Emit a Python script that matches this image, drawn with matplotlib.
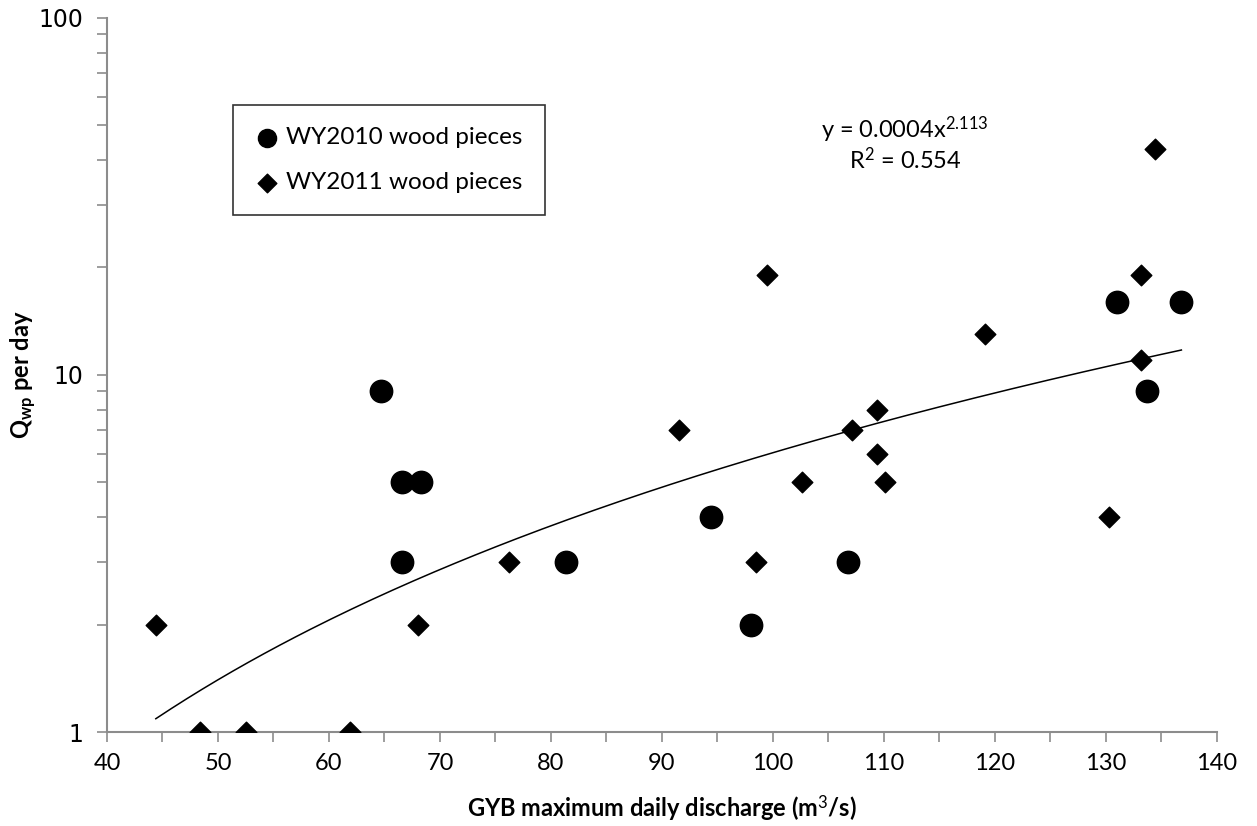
import numpy as np
import matplotlib
matplotlib.use("Agg")
import matplotlib.pyplot as plt
from matplotlib.ticker import MultipleLocator, LogLocator, NullFormatter, FixedFormatter, FixedLocator

plt.rcParams["mathtext.fontset"] = "custom"
plt.rcParams["mathtext.rm"] = "Lato"
plt.rcParams["mathtext.it"] = "Lato:italic"
plt.rcParams["mathtext.bf"] = "Lato:bold"

# WY2010 wood pieces (circles)
q2010 = [64.7, 66.6, 68.3, 66.6, 81.4, 94.4, 98.0, 106.8, 131.0, 133.7, 136.8]
n2010 = [9, 5, 5, 3, 3, 4, 2, 3, 16, 9, 16]

# WY2011 wood pieces (diamonds)
q2011 = [44.4, 48.4, 52.5, 61.9, 68.0, 76.2, 91.5, 99.5, 98.5, 102.6, 107.1,
         109.4, 109.4, 110.1, 119.1, 130.3, 133.2, 133.2, 134.4]
n2011 = [2, 1, 1, 1, 2, 3, 7, 19, 3, 5, 7, 8, 6, 5, 13, 4, 19, 11, 43]

# power trendline as printed on the chart
coef_a = 0.00036
coef_b = 2.113

grey = "#8c8c8c"
fig = plt.figure(figsize=(12.57, 8.26), dpi=100)
ax = fig.add_axes([0.0851, 0.1138, 0.883, 0.8645])

ax.scatter(q2010, n2010, marker="o", s=260, color="black", zorder=3,
           label="WY2010 wood pieces")
ax.scatter(q2011, n2011, marker="D", s=110, color="black", zorder=3,
           label="WY2011 wood pieces")

xs = np.linspace(min(q2011), max(q2010), 200)
ax.plot(xs, coef_a * xs ** coef_b, color="black", lw=1.1, zorder=2)

ax.set_yscale("log")
ax.set_xlim(40, 140)
ax.set_ylim(1, 100)

ax.xaxis.set_major_locator(MultipleLocator(10))
ax.xaxis.set_minor_locator(MultipleLocator(5))
ax.yaxis.set_major_locator(FixedLocator([1, 10, 100]))
ax.yaxis.set_major_formatter(FixedFormatter(["1", "10", "100"]))
ax.yaxis.set_minor_locator(LogLocator(base=10, subs=np.arange(2, 10)))
ax.yaxis.set_minor_formatter(NullFormatter())

for s in ["top", "right"]:
    ax.spines[s].set_visible(False)
for s in ["left", "bottom"]:
    ax.spines[s].set_color(grey)
    ax.spines[s].set_linewidth(1.5)

ax.tick_params(axis="x", which="both", direction="out", length=7, width=1.2,
               color=grey, labelsize=17, pad=8)
ax.tick_params(axis="y", which="both", direction="out", length=7, width=1.2,
               color=grey, labelsize=17, pad=10)
for t in ax.get_xticklabels():
    t.set_family("Lato")
for t in ax.get_yticklabels():
    t.set_family("DejaVu Sans")

ax.set_xlabel("GYB maximum daily discharge (m$^3$/s)", fontsize=17,
              fontweight="bold", family="Lato", labelpad=14)
ax.set_ylabel("Q$_{\\mathbf{wp}}$ per day", fontsize=17, fontweight="bold",
              family="Lato")
ax.yaxis.set_label_coords(-0.062, 0.5)

leg = ax.legend(loc="upper left", bbox_to_anchor=(0.1135, 0.878), frameon=True,
                fancybox=False, edgecolor="black",
                handletextpad=0.3, labelspacing=1.0, borderpad=0.9,
                handlelength=1.0, borderaxespad=0,
                prop={"family": "Lato", "size": 17.5})
leg.get_frame().set_linewidth(1.2)
leg.legend_handles[0].set_sizes([170])
leg.legend_handles[1].set_sizes([90])

ax.text(0.719, 0.843, "y = 0.0004x$^{2.113}$", transform=ax.transAxes,
        ha="center", va="center", fontsize=17, family="Lato")
ax.text(0.719, 0.801, "R$^2$ = 0.554", transform=ax.transAxes,
        ha="center", va="center", fontsize=17, family="Lato")

fig.savefig("out.png", dpi=100)
